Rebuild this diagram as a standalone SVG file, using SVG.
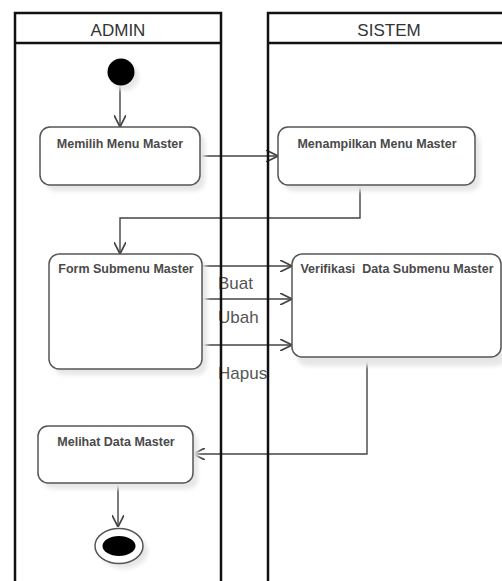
<svg xmlns="http://www.w3.org/2000/svg" width="502" height="581" viewBox="0 0 502 581">
  <style>
    .lane { fill: none; stroke: #111; stroke-width: 2.5; }
    .lane-title { font-family: "Liberation Sans", Arial, sans-serif; font-size: 17px; fill: #333; text-anchor: middle; }
    .act { fill: #fff; stroke: #555; stroke-width: 1.5; }
    .shadow { fill: #e6e6e6; filter: url(#soft); }
    .act-label { font-family: "Liberation Sans", Arial, sans-serif; font-size: 12.5px; font-weight: bold; fill: #4a4a4a; text-anchor: middle; }
    .flow { fill: none; stroke: #444; stroke-width: 1.4; marker-end: url(#open-arrow); }
    .guard { font-family: "Liberation Sans", Arial, sans-serif; font-size: 17px; fill: #555; }
  </style>
  <defs>
    <filter id="soft" x="-20%" y="-20%" width="140%" height="140%">
      <feGaussianBlur stdDeviation="2"/>
    </filter>
    <marker id="open-arrow" markerWidth="12" markerHeight="12" refX="10" refY="5" orient="auto" markerUnits="userSpaceOnUse" viewBox="0 0 10 10">
      <path d="M0,0 L10,5 L0,10" fill="none" stroke="#444" stroke-width="1.4"/>
    </marker>
  </defs>

  <rect width="502" height="581" fill="#fff"/>

  <!-- swimlane headers -->
  <g id="lane-headers">
    <text class="lane-title" x="118" y="36">ADMIN</text>
    <text class="lane-title" x="389" y="36">SISTEM</text>
  </g>

  <!-- control flows -->
  <g id="connectors">
    <path class="flow" d="M120,86 L120,127"/>
    <path class="flow" d="M200,156 L278,156"/>
    <path class="flow" d="M360,185 L360,218 L120,218 L120,254"/>
    <path class="flow" d="M202,266 L292,266"/>
    <path class="flow" d="M202,299 L292,299"/>
    <path class="flow" d="M202,345 L292,345"/>
    <path class="flow" d="M367,357 L367,454 L193,454"/>
    <path class="flow" d="M118,483 L118,527"/>
    <text class="guard" x="218" y="289">Buat</text>
    <text class="guard" x="218" y="323">Ubah</text>
    <text class="guard" x="218" y="379">Hapus</text>
  </g>

  <!-- swimlane borders -->
  <g id="lanes">
    <path class="lane" d="M15,590 L15,13 L221,13 L221,590"/>
    <path class="lane" d="M15,43 L221,43"/>
    <path class="lane" d="M268,590 L268,13 L520,13"/>
    <path class="lane" d="M268,43 L520,43"/>
  </g>

  <g id="start">
    <circle class="shadow" cx="125" cy="77" r="13.5"/>
    <circle cx="121" cy="72" r="13.5" fill="#000"/>
  </g>

  <g id="memilih-menu-master">
    <rect class="shadow" x="45" y="133" width="160" height="58" rx="10"/>
    <rect class="act" x="40" y="127" width="160" height="58" rx="10"/>
    <text class="act-label" x="120" y="148">Memilih Menu Master</text>
  </g>

  <g id="menampilkan-menu-master">
    <rect class="shadow" x="283" y="133" width="197" height="58" rx="10"/>
    <rect class="act" x="278" y="127" width="197" height="58" rx="10"/>
    <text class="act-label" x="377" y="148">Menampilkan Menu Master</text>
  </g>

  <g id="form-submenu-master">
    <rect class="shadow" x="54" y="260" width="153" height="115" rx="10"/>
    <rect class="act" x="49" y="254" width="153" height="115" rx="10"/>
    <text class="act-label" x="126" y="273">Form Submenu Master</text>
  </g>

  <g id="verifikasi-data-submenu-master">
    <rect class="shadow" x="297" y="263" width="209" height="103" rx="10"/>
    <rect class="act" x="292" y="254" width="209" height="103" rx="10"/>
    <text class="act-label" x="397" y="273" xml:space="preserve">Verifikasi  Data Submenu Master</text>
  </g>

  <g id="melihat-data-master">
    <rect class="shadow" x="43" y="432" width="155" height="57" rx="10"/>
    <rect class="act" x="38" y="426" width="155" height="57" rx="10"/>
    <text class="act-label" x="116" y="446">Melihat Data Master</text>
  </g>

  <g id="end">
    <ellipse class="shadow" cx="124" cy="551" rx="24" ry="17.5"/>
    <ellipse cx="119" cy="546" rx="24" ry="17.5" fill="#fff" stroke="#555" stroke-width="1.5"/>
    <ellipse cx="119" cy="546" rx="16.5" ry="10" fill="#000"/>
  </g>
</svg>
